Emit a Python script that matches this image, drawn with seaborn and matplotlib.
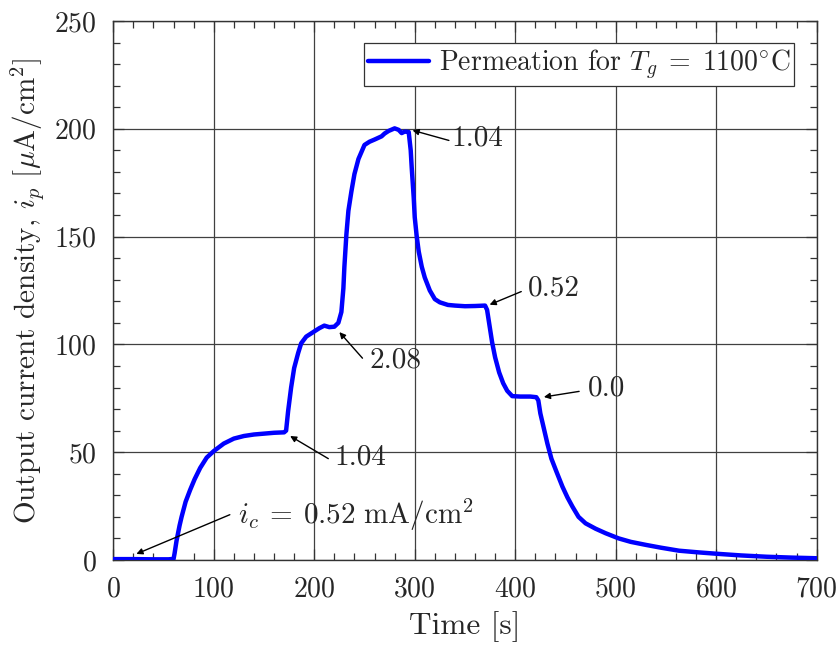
import numpy as np
import pandas as pd
import matplotlib
matplotlib.use("Agg")
import matplotlib.pyplot as plt
import seaborn as sns
from matplotlib.ticker import MultipleLocator

# Permeation transient: time [s] and output current density [uA/cm^2]
time_s = [0, 20, 40, 55, 60, 61, 63, 66, 68, 72, 76.5, 81, 86.5, 93, 100, 110,
          120, 130, 140, 150, 160, 170, 172, 174, 177, 180, 184, 187, 192, 200,
          205, 210, 215, 220, 224, 227, 229, 230, 232, 234, 237, 240, 244, 250,
          255, 260, 267, 270, 274, 280, 284, 287, 290, 294, 296, 297, 299, 300,
          302, 304, 307, 310, 315, 320, 325, 333, 340, 350, 360, 370, 372, 374,
          377, 380, 384, 388, 392, 397, 405, 415, 421, 423, 425, 428, 432, 436,
          441, 447, 452, 457, 463, 470, 480, 490, 503, 515, 530, 545, 563, 583,
          603, 625, 650, 675, 700]
current_uA = [0.4, 0.4, 0.3, 0.3, 0.5, 3, 9, 16, 20, 27, 32.5, 37.5, 42.7, 47.5,
              50.5, 54, 56.3, 57.5, 58.2, 58.6, 59, 59.2, 60, 69, 80, 89, 96,
              100.5, 103.6, 106, 107.5, 108.7, 108, 108.2, 110, 115, 126, 136,
              151, 162, 171, 179, 186, 192.5, 194, 195, 196.5, 197.8, 199, 200.2,
              199.5, 198, 198.7, 198.5, 190, 182, 168, 159, 150, 143, 136, 131,
              125, 121, 119.5, 118.3, 118, 117.7, 117.8, 118, 116, 110, 101, 94,
              87, 82, 78.5, 76, 75.8, 75.8, 75.5, 74, 68, 62, 54, 47, 41, 34, 29,
              24.7, 20, 17, 14.5, 12.4, 10, 8.4, 7, 5.7, 4.3, 3.5, 2.8, 2.1, 1.5,
              1.1, 0.8]

# Annotations: label, arrow tip (x, y), arrow tail (x, y), label anchor (x, y)
ann_labels = [r"$i_c\:=\:0.52\ \mathrm{mA}/\mathrm{cm}^2$", "1.04", "2.08", "1.04", "0.52", "0.0"]
ann_tips = [(23, 2.8), (176, 57.5), (225, 105.7), (297.8, 199.3), (374.5, 118.4), (428.5, 75.6)]
ann_tails = [(116, 21), (214, 47), (248, 93.6), (334, 194.6), (406, 124.5), (463.6, 78.2)]
ann_text = [(124, 21), (220, 47.5), (255, 92.4), (337, 195.5), (413, 125.9), (472, 79.4)]

legend_label = r"Permeation for $T_g\;=\;1100^{\circ}\mathrm{C}$"

sns.set_style("ticks")
plt.rcParams.update({
    "font.family": "serif",
    "font.serif": ["cmr10", "DejaVu Serif"],
    "mathtext.fontset": "cm",
    "axes.formatter.use_mathtext": True,
    "axes.unicode_minus": False,
})

df = pd.DataFrame({"Time [s]": time_s, "Current": current_uA})

fig = plt.figure(figsize=(8.39, 6.5), dpi=100)
ax = fig.add_axes([0.1350, 0.1385, 0.8384, 0.8292])

sns.lineplot(data=df, x="Time [s]", y="Current", ax=ax, color="#0000ff",
             linewidth=3.2, estimator=None, sort=False, label=legend_label, zorder=3)

ax.set_xlim(0, 700)
ax.set_ylim(0, 250)
ax.xaxis.set_major_locator(MultipleLocator(100))
ax.xaxis.set_minor_locator(MultipleLocator(20))
ax.yaxis.set_major_locator(MultipleLocator(50))
ax.yaxis.set_minor_locator(MultipleLocator(10))
ax.tick_params(which="both", direction="in", top=True, right=True,
               labelsize=20, width=0.9, color="0.2")
ax.tick_params(which="major", length=8, pad=12)
ax.tick_params(which="minor", length=5)
ax.grid(True, which="major", color="0.25", linewidth=0.9)
for sp in ax.spines.values():
    sp.set_linewidth(1.0)
    sp.set_color("0.2")

ax.set_xlabel("Time [s]", fontsize=22.5, labelpad=6)
ax.set_ylabel(r"Output current density, $i_p$ $[\mu\mathrm{A}/\mathrm{cm}^2]$",
              fontsize=21, labelpad=6)

for lab, tip, tail, pos in zip(ann_labels, ann_tips, ann_tails, ann_text):
    ax.annotate("", xy=tip, xytext=tail,
                arrowprops=dict(arrowstyle="-|>", color="k", lw=1.0,
                                mutation_scale=9, shrinkA=0, shrinkB=0),
                zorder=4)
    ax.text(pos[0], pos[1], lab, fontsize=21, ha="left", va="center", zorder=4)

leg = ax.legend(loc="upper right", fontsize=20, frameon=True, fancybox=False,
                edgecolor="0.2", framealpha=1.0, handlelength=2.2,
                borderpad=0.15, handletextpad=0.35, borderaxespad=0.8)
leg.get_frame().set_linewidth(0.9)

fig.savefig("out.png", dpi=100)
